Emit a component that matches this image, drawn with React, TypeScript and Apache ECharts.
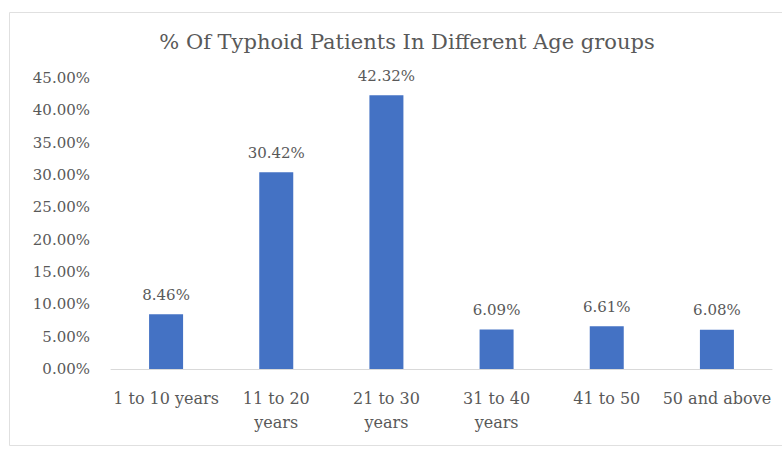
import React, { useEffect, useRef } from "react";
import * as echarts from "echarts";

const categories = ["1 to 10 years", "11 to 20\nyears", "21 to 30\nyears", "31 to 40\nyears", "41 to 50", "50 and above"];
const values = [8.46, 30.42, 42.32, 6.09, 6.61, 6.08];
const yMin = 0;
const yMax = 45;
const yInterval = 5;

const FONT = "'DejaVu Serif', 'Liberation Serif', serif";

export default function App() {
  const ref = useRef<HTMLDivElement>(null);
  useEffect(() => {
    if (!ref.current) return;
    const chart = echarts.init(ref.current, undefined, { renderer: "svg" });
    chart.setOption({
      animation: false,
      backgroundColor: "#ffffff",
      textStyle: { fontFamily: FONT },
      title: {
        text: "% Of Typhoid Patients In Different Age groups",
        left: 402,
        top: 26,
        textAlign: "center",
        textStyle: { fontFamily: FONT, fontSize: 21, fontWeight: "normal", color: "#595959" },
      },
      graphic: [
        {
          type: "rect",
          shape: { x: 9.5, y: 12.5, width: 800, height: 433 },
          style: { fill: "none", stroke: "#e0e0e0", lineWidth: 1 },
          silent: true,
        },
      ],
      grid: { left: 111, right: 10, top: 78, bottom: 80, containLabel: false },
      xAxis: {
        type: "category",
        data: categories,
        axisLine: { show: true, lineStyle: { color: "#d9d9d9", width: 1 } },
        axisTick: { show: false },
        axisLabel: {
          color: "#595959",
          fontFamily: FONT,
          fontSize: 16,
          margin: 17,
          lineHeight: 24,
          interval: 0,
        },
      },
      yAxis: {
        type: "value",
        min: yMin,
        max: yMax,
        interval: yInterval,
        splitLine: { show: false },
        axisLine: { show: false },
        axisTick: { show: false },
        axisLabel: {
          color: "#595959",
          fontFamily: FONT,
          fontSize: 15,
          margin: 21,
          formatter: (v: number) => v.toFixed(2) + "%",
        },
      },
      series: [
        {
          type: "bar",
          data: values,
          barWidth: 34,
          itemStyle: { color: "#4472c4" },
          label: {
            show: true,
            position: "top",
            distance: 12,
            color: "#595959",
            fontFamily: FONT,
            fontSize: 15,
            formatter: (p: any) => Number(p.value).toFixed(2) + "%",
          },
        },
      ],
    });
    return () => chart.dispose();
  }, []);
  return <div ref={ref} style={{ width: 782, height: 449, position: "absolute", left: 0, top: 0 }} />;
}
